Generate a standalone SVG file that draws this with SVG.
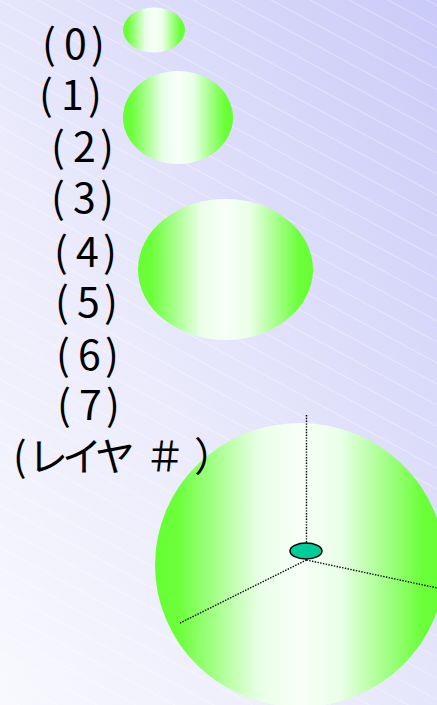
<svg xmlns="http://www.w3.org/2000/svg" width="437" height="705" viewBox="0 0 437 705">
<style>
.lbl{font-family:"Noto Sans CJK JP","Noto Sans",sans-serif;font-size:41px;fill:#000}
.big{font-size:40px}
.ball{fill:url(#g)}
.dot{stroke:#000;stroke-width:1.4;stroke-dasharray:1.4 1.4;fill:none}
</style>
<defs>
<linearGradient id="bg" x1="1" y1="0" x2="0" y2="1">
<stop offset="0" stop-color="#cacaf8"/>
<stop offset="0.6" stop-color="#ebebfc"/>
<stop offset="1" stop-color="#f8f8fe"/>
</linearGradient>
<pattern id="hatch" width="40" height="18.5" patternUnits="userSpaceOnUse" patternTransform="rotate(28.4)">
<line x1="0" y1="0.5" x2="40" y2="0.5" stroke="#ffffff" stroke-opacity="0.35" stroke-width="1"/>
</pattern>
<linearGradient id="g" x1="0" y1="0" x2="1" y2="0">
<stop offset="0" stop-color="#66ff33"/>
<stop offset="0.08" stop-color="#6cff3b"/>
<stop offset="0.36" stop-color="#eaffe8"/>
<stop offset="0.5" stop-color="#f8fff8"/>
<stop offset="0.64" stop-color="#eaffe8"/>
<stop offset="0.92" stop-color="#6cff3b"/>
<stop offset="1" stop-color="#66ff33"/>
</linearGradient>
</defs>
<rect width="437" height="705" fill="url(#bg)"/>
<rect width="437" height="705" fill="url(#hatch)"/>
<g id="ball0"><ellipse class="ball" cx="154" cy="30" rx="31" ry="22.5"/></g>
<g id="ball1"><ellipse class="ball" cx="178" cy="117.5" rx="55" ry="46.5"/></g>
<g id="ball2"><ellipse class="ball" cx="225.5" cy="269.5" rx="87.5" ry="70.5"/></g>
<g id="ball3"><ellipse class="ball" cx="300" cy="565" rx="145" ry="142"/></g>
<g id="connectors">
<line class="dot" x1="306.5" y1="415" x2="306.5" y2="543"/>
<line class="dot" x1="306.5" y1="560" x2="180" y2="623"/>
<line class="dot" x1="306.5" y1="560" x2="440" y2="588.6"/>
</g>
<g id="hub"><ellipse cx="306" cy="551" rx="16" ry="8" fill="#00cc99" stroke="#000" stroke-width="1.5"/></g>
<g id="label0"><text class="lbl" x="42 64 91" y="59">(0)</text></g>
<g id="label1"><text class="lbl" x="39 61 88" y="110">(1)</text></g>
<g id="label2"><text class="lbl" x="51 73 100" y="162">(2)</text></g>
<g id="label3"><text class="lbl" x="51 73 100" y="213">(3)</text></g>
<g id="label4"><text class="lbl" x="54 76 103" y="267">(4)</text></g>
<g id="label5"><text class="lbl" x="55 77 104" y="317">(5)</text></g>
<g id="label6"><text class="lbl" x="56 78 105" y="370">(6)</text></g>
<g id="label7"><text class="lbl" x="57 79 106" y="420">(7)</text></g>
<g id="labelL"><text class="lbl big" x="13 28 62 95 145 194" y="471">(レイヤ＃）</text></g>
</svg>
